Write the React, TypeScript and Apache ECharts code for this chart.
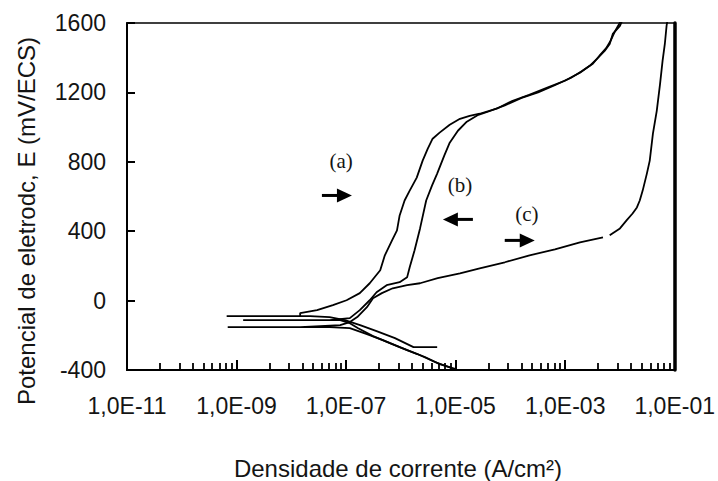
import React, { useEffect, useRef } from "react";
import * as echarts from "echarts";

// ---- axis values ----
const xTickExponents = [-11, -9, -7, -5, -3, -1];
const yMin = -400;
const yMax = 1600;
const yStep = 400;

// ---- curve (a): current density (A/cm²) and potential (mV/ECS) ----
const currentA = [
  4.6e-6, 1.7e-6, 7.8e-7, 3.6e-7, 1.8e-7, 9.5e-8, 5.0e-8, 2.2e-8, 6.6e-10, 1.45e-8,
  1.45e-8, 2.95e-8, 5.75e-8, 1.02e-7, 1.78e-7, 2.7e-7, 4.2e-7, 5.1e-7, 6.9e-7, 8.5e-7,
  9.5e-7, 1.17e-6, 1.45e-6, 1.95e-6, 2.5e-6, 3.1e-6, 3.8e-6, 5.1e-6, 7.8e-6, 1.2e-5,
  1.8e-5, 2.75e-5, 5.6e-5, 1.1e-4, 2.2e-4, 4.6e-4, 9.8e-4, 1.86e-3, 2.8e-3, 3.8e-3,
  5.25e-3, 6.5e-3, 7.4e-3, 1.0e-2, 1.12e-2,
];
const potentialA = [
  -268, -268, -216, -176, -141, -113, -95, -90, -90, -90,
  -72, -55, -26, 2, 43, 100, 175, 261, 347, 405,
  491, 577, 634, 709, 807, 876, 933, 968, 1014, 1048,
  1065, 1077, 1106, 1152, 1186, 1226, 1267, 1313, 1353, 1393,
  1439, 1479, 1537, 1583, 1620,
];

// ---- curve (b) ----
const currentB = [
  9.8e-6, 5.1e-6, 2.75e-6, 1.3e-6, 6.3e-7, 3.1e-7, 1.66e-7, 1.17e-7, 7.8e-8, 1.32e-9,
  5.0e-8, 1.17e-7, 1.78e-7, 2.7e-7, 3.6e-7, 5.5e-7, 9.5e-7, 1.3e-6, 1.45e-6, 1.78e-6,
  2.24e-6, 2.9e-6, 3.7e-6, 4.6e-6, 6.2e-6, 7.8e-6, 1.1e-5, 1.6e-5, 2.6e-5, 4.0e-5,
  7.9e-5, 1.6e-4, 3.2e-4, 6.3e-4, 1.26e-3, 2.0e-3, 3.2e-3, 4.2e-3, 5.6e-3, 6.8e-3,
  7.9e-3, 9.5e-3, 1.07e-2,
];
const potentialB = [
  -394, -366, -325, -285, -245, -205, -159, -130, -113, -113,
  -113, -101, -55, 2, 48, 89, 106, 134, 192, 290,
  416, 577, 663, 732, 836, 910, 979, 1031, 1071, 1090,
  1125, 1168, 1200, 1240, 1283, 1322, 1365, 1410, 1455, 1500,
  1545, 1590, 1620,
];

// ---- curve (c) (null = gap in the recorded trace) ----
const currentC = [
  8.5e-6, 4.2e-6, 2.0e-6, 9.5e-7, 4.7e-7, 2.4e-7, 1.17e-7, 5.0e-8, 6.9e-10, 1.45e-8,
  7.8e-8, 1.17e-7, 1.6e-7, 2.4e-7, 3.1e-7, 4.5e-7, 7.1e-7, 1.3e-6, 2.24e-6, 4.7e-6,
  1.2e-5, 2.75e-5, 7.9e-5, 2.24e-4, 6.5e-4, 1.86e-3, 4.9e-3, null, 6.5e-3, 1.0e-2,
  1.32e-2, 1.7e-2, 2.04e-2, 2.3e-2, 2.6e-2, 3.1e-2, 3.5e-2, 4.0e-2, 4.7e-2, 5.4e-2,
  6.0e-2, 6.6e-2, 7.1e-2, 7.4e-2,
];
const potentialC = [
  -389, -354, -308, -268, -228, -193, -159, -153, -153, -153,
  -141, -124, -95, -38, 14, 43, 71, 89, 100, 129,
  157, 186, 221, 261, 295, 336, 364, null, 376, 416,
  462, 502, 537, 577, 634, 732, 807, 962, 1094, 1249,
  1382, 1479, 1583, 1620,
];

// ---- annotations ----
const annotationLabels = ["(a)", "(b)", "(c)"];
const labelCurrent = [8.1e-8, 1.2e-5, 2.0e-4];
const labelPotential = [807, 669, 497];
const arrowCurrent = [6.8e-8, 1.1e-5, 1.48e-4];
const arrowPotential = [606, 468, 347];
const arrowDirection = [1, -1, 1];

const SANS = '"Liberation Sans", Arial, sans-serif';
const SERIF = '"Liberation Serif", "Times New Roman", serif';
const INK = "#141414";

function toSeries(I: (number | null)[], E: (number | null)[]) {
  return I.map((v, i) => (v == null || E[i] == null ? null : [Math.log10(v), E[i] as number]));
}

export default function App() {
  const ref = useRef<HTMLDivElement>(null);

  useEffect(() => {
    const chart = echarts.init(ref.current!, undefined, { renderer: "svg" });

    const xMin = xTickExponents[0];
    const xMax = xTickExponents[xTickExponents.length - 1];
    const minorTicks: number[] = [];
    for (let a = xMin; a < xMax; a += 2) {
      for (let k = 2; k <= 9; k++) minorTicks.push(a + 2 * Math.log10(k));
    }

    const lineSeries = (name: string, data: any[]) => ({
      name,
      type: "line",
      data,
      showSymbol: false,
      symbol: "none",
      connectNulls: false,
      clip: true,
      lineStyle: { color: "#000", width: 1.8 },
      z: 3,
    });

    const option: any = {
      animation: false,
      backgroundColor: "#fff",
      grid: {
        left: 127,
        right: 43,
        top: 23,
        bottom: 111,
        show: true,
        borderColor: "#000",
        borderWidth: 1.5,
        containLabel: false,
      },
      xAxis: [
        {
          type: "value",
          min: xMin,
          max: xMax,
          position: "bottom",
          axisLine: { show: true, onZero: false, lineStyle: { color: "#000", width: 2 } },
          axisTick: {
            show: true,
            inside: true,
            length: 10,
            customValues: xTickExponents,
            lineStyle: { color: "#000", width: 2 },
          },
          axisLabel: {
            customValues: xTickExponents,
            formatter: (v: number) => "1,0E-" + String(Math.round(-v)).padStart(2, "0"),
            fontSize: 23,
            fontFamily: SANS,
            color: INK,
            margin: 24,
          },
          splitLine: { show: false },
        },
        {
          type: "value",
          min: xMin,
          max: xMax,
          position: "bottom",
          axisLine: { show: false, onZero: false },
          axisTick: {
            show: true,
            inside: true,
            length: 7,
            customValues: minorTicks,
            lineStyle: { color: "#000", width: 1.8 },
          },
          axisLabel: { show: false },
          splitLine: { show: false },
        },
      ],
      yAxis: [
        {
          type: "value",
          min: yMin,
          max: yMax,
          interval: yStep,
          axisLine: { show: true, onZero: false, lineStyle: { color: "#000", width: 2 } },
          axisTick: { show: true, inside: true, length: 8, lineStyle: { color: "#000", width: 2 } },
          axisLabel: {
            fontSize: 23,
            fontFamily: SANS,
            color: INK,
            margin: 21,
            formatter: (v: number) => String(v),
          },
          splitLine: { show: false },
        },
        {
          type: "value",
          position: "right",
          min: yMin,
          max: yMax,
          interval: yStep,
          axisLine: { show: true, onZero: false, lineStyle: { color: "#000", width: 3.5 } },
          axisTick: { show: false },
          axisLabel: { show: false },
          splitLine: { show: false },
        },
      ],
      series: [
        lineSeries("(a)", toSeries(currentA, potentialA)),
        lineSeries("(b)", toSeries(currentB, potentialB)),
        lineSeries("(c)", toSeries(currentC, potentialC)),
        {
          type: "custom",
          z: 5,
          encode: { x: 0, y: 1 },
          data: arrowCurrent.map((c, i) => [Math.log10(c), arrowPotential[i], arrowDirection[i]]),
          renderItem: (_params: any, api: any) => {
            const p = api.coord([api.value(0), api.value(1)]);
            const d = api.value(2);
            const half = 15;
            const headLen = 15;
            const headHalf = 7;
            const tipX = p[0] + d * half;
            const baseX = tipX - d * headLen;
            return {
              type: "group",
              children: [
                {
                  type: "line",
                  shape: { x1: p[0] - d * half, y1: p[1], x2: baseX + d * 2, y2: p[1] },
                  style: { stroke: "#000", lineWidth: 3 },
                },
                {
                  type: "polygon",
                  shape: {
                    points: [
                      [tipX, p[1]],
                      [baseX, p[1] - headHalf],
                      [baseX, p[1] + headHalf],
                    ],
                  },
                  style: { fill: "#000" },
                },
              ],
            };
          },
        },
        {
          type: "custom",
          z: 5,
          encode: { x: 0, y: 1 },
          data: labelCurrent.map((c, i) => [Math.log10(c), labelPotential[i]]),
          renderItem: (params: any, api: any) => {
            const p = api.coord([api.value(0), api.value(1)]);
            return {
              type: "text",
              x: p[0],
              y: p[1],
              style: {
                text: annotationLabels[params.dataIndex],
                font: "21px " + SERIF,
                fill: INK,
                align: "center",
                verticalAlign: "middle",
              },
            };
          },
        },
      ],
      graphic: [
        {
          type: "text",
          x: 398,
          y: 468,
          style: {
            text: "Densidade de corrente (A/cm²)",
            font: "24px " + SANS,
            fill: INK,
            align: "center",
            verticalAlign: "middle",
          },
        },
        {
          type: "text",
          x: 26,
          y: 221,
          rotation: Math.PI / 2,
          style: {
            text: "Potencial de eletrodc, E (mV/ECS)",
            font: "24px " + SANS,
            fill: INK,
            align: "center",
            verticalAlign: "middle",
          },
        },
      ],
    };

    chart.setOption(option);
    return () => chart.dispose();
  }, []);

  return (
    <div
      ref={ref}
      style={{ position: "absolute", left: 0, top: 0, width: 718, height: 481 }}
    />
  );
}
